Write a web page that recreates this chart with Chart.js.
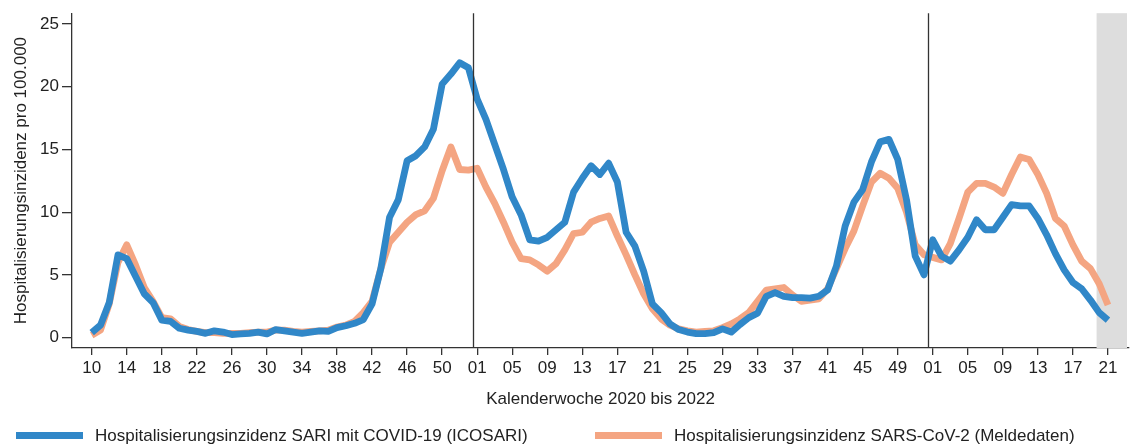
<!DOCTYPE html>
<html>
<head>
<meta charset="utf-8">
<script src="https://cdn.jsdelivr.net/npm/chart.js@4"></script>
<style>
  html, body { margin: 0; padding: 0; background: #fff; }
  #wrap { width: 1131px; height: 448px; position: relative; }
</style>
</head>
<body>
<div id="wrap"><canvas id="chart"></canvas></div>
<script>
// Kalenderwoche 2020/10 .. 2022/21, one value per week
const tickLabels = ['10','14','18','22','26','30','34','38','42','46','50',
                    '01','05','09','13','17','21','25','29','33','37','41','45','49',
                    '01','05','09','13','17','21'];
const yTicks = [0, 5, 10, 15, 20, 25];

const sariIcosari = [
  0.4, 1.0, 2.8, 6.6, 6.3, 4.9, 3.5, 2.8, 1.4, 1.3,
  0.75, 0.6, 0.5, 0.35, 0.55, 0.45, 0.25, 0.3, 0.35, 0.45,
  0.3, 0.65, 0.55, 0.45, 0.35, 0.45, 0.55, 0.5, 0.8, 0.95,
  1.15, 1.45, 2.7, 5.5, 9.6, 11.0, 14.1, 14.5, 15.2, 16.6,
  20.2, 21.0, 21.9, 21.5, 19.0, 17.4, 15.4, 13.4, 11.2, 9.8,
  7.8, 7.7, 8.0, 8.6, 9.2, 11.6, 12.7, 13.7, 13.0, 13.9,
  12.4, 8.4, 7.3, 5.3, 2.7, 2.0, 1.1, 0.65, 0.45, 0.33,
  0.32, 0.4, 0.7, 0.45, 1.05, 1.6, 1.95, 3.3, 3.6, 3.3,
  3.2, 3.2, 3.15, 3.3, 3.8, 5.7, 8.9, 10.8, 11.8, 14.0,
  15.6, 15.8, 14.2, 11.0, 6.5, 5.0, 7.8, 6.5, 6.1, 7.0,
  8.0, 9.4, 8.6, 8.6, 9.6, 10.6, 10.5, 10.5, 9.5, 8.2,
  6.7, 5.4, 4.4, 3.9, 3.0, 2.0, 1.4
];

const sarsCov2Melde = [
  0.2, 0.6, 2.7, 6.0, 7.4, 5.8, 4.0, 2.9, 1.6, 1.5,
  0.9, 0.65, 0.5, 0.4, 0.4, 0.35, 0.35, 0.35, 0.4, 0.45,
  0.45, 0.6, 0.6, 0.5, 0.45, 0.5, 0.55, 0.6, 0.85, 1.0,
  1.3, 2.0, 2.9, 5.5, 7.6, 8.4, 9.2, 9.8, 10.1, 11.1,
  13.3, 15.2, 13.4, 13.35, 13.5, 12.0, 10.7, 9.2, 7.6, 6.3,
  6.2, 5.8, 5.3, 5.9, 7.0, 8.3, 8.4, 9.2, 9.5, 9.7,
  8.1, 6.6, 5.0, 3.5, 2.3, 1.5, 1.0, 0.7, 0.55, 0.45,
  0.5, 0.55, 0.8, 1.1, 1.5, 2.0, 2.9, 3.8, 3.9, 4.0,
  3.4, 2.9, 3.0, 3.1, 3.9, 5.5, 7.1, 8.5, 10.5, 12.4,
  13.1, 12.7, 11.9, 10.0, 7.4, 6.6, 6.4, 6.2, 7.5, 9.5,
  11.6, 12.3, 12.3, 12.0, 11.5, 13.0, 14.4, 14.2, 13.0, 11.5,
  9.5, 8.9, 7.4, 6.1, 5.5, 4.3, 2.6
];

const yearBreaks = [43.5, 95.5];   // between 2020/53|2021/01 and 2021/52|2022/01
const incompleteFrom = 114.7;      // shaded: last weeks not yet complete

const blue = '#3087c8';
const orange = '#f4a582';
const ink = '#222222';
const font = 'Liberation Sans, Arial, Helvetica, sans-serif';
const fontSize = 17;

Chart.defaults.font.family = font;
Chart.defaults.color = ink;

const toPoints = arr => arr.map((v, i) => ({ x: i, y: v }));

const overlay = {
  id: 'overlay',
  beforeDatasetsDraw(chart) {
    const { ctx, chartArea: a, scales: { x } } = chart;
    ctx.save();
    ctx.fillStyle = '#dddddd';
    const x0 = x.getPixelForValue(incompleteFrom);
    ctx.fillRect(x0, a.top, a.right - 2 - x0, a.bottom - a.top);
    ctx.restore();
  },
  afterDatasetsDraw(chart) {
    const { ctx, chartArea: a, scales: { x } } = chart;
    ctx.save();
    ctx.strokeStyle = '#333333';
    ctx.lineWidth = 1.3;
    yearBreaks.forEach(v => {
      const px = Math.round(x.getPixelForValue(v)) + 0.5;
      ctx.beginPath();
      ctx.moveTo(px, a.top);
      ctx.lineTo(px, a.bottom);
      ctx.stroke();
    });
    ctx.restore();
  },
  afterDraw(chart) {
    // legend drawn by hand, two items on one row
    const { ctx } = chart;
    const legendX = [16, 595];
    const legendY = 435.5;
    ctx.save();
    ctx.font = fontSize + 'px ' + font;
    ctx.textBaseline = 'middle';
    ctx.textAlign = 'left';
    chart.data.datasets.forEach((ds, i) => {
      ctx.strokeStyle = ds.borderColor;
      ctx.lineWidth = 7;
      ctx.beginPath();
      ctx.moveTo(legendX[i], legendY);
      ctx.lineTo(legendX[i] + 67, legendY);
      ctx.stroke();
      ctx.fillStyle = ink;
      ctx.fillText(ds.label, legendX[i] + 79, legendY + 1);
    });
    ctx.restore();
  }
};

new Chart(document.getElementById('chart'), {
  type: 'line',
  data: {
    datasets: [
      {
        label: 'Hospitalisierungsinzidenz SARI mit COVID-19 (ICOSARI)',
        data: toPoints(sariIcosari),
        borderColor: blue,
        backgroundColor: blue
      },
      {
        label: 'Hospitalisierungsinzidenz SARS-CoV-2 (Meldedaten)',
        data: toPoints(sarsCov2Melde),
        borderColor: orange,
        backgroundColor: orange
      }
    ]
  },
  options: {
    responsive: true,
    maintainAspectRatio: false,
    animation: false,
    layout: { padding: { top: 7, right: 2, left: 0, bottom: 30 } },
    elements: {
      line: { borderWidth: 6.8, tension: 0, borderJoinStyle: 'round', borderCapStyle: 'butt' },
      point: { radius: 0, hoverRadius: 0 }
    },
    plugins: {
      legend: { display: false },
      tooltip: { enabled: false }
    },
    scales: {
      x: {
        type: 'linear',
        min: -2.25,
        max: 118.4,
        afterBuildTicks: axis => { axis.ticks = tickLabels.map((_, k) => ({ value: k * 4 })); },
        afterFit: axis => { axis.height = 70; },
        grid: { display: true, drawOnChartArea: false, drawTicks: true, tickLength: 7, color: '#333333', lineWidth: 1.3 },
        border: { display: true, color: '#333333', width: 1.3 },
        ticks: {
          font: { size: fontSize },
          color: ink,
          padding: 3,
          maxRotation: 0,
          autoSkip: false,
          callback: v => tickLabels[Math.round(v / 4)]
        },
        title: {
          display: true,
          text: 'Kalenderwoche 2020 bis 2022',
          font: { size: fontSize },
          color: ink,
          padding: { top: 0, bottom: 8 }
        }
      },
      y: {
        min: -0.82,
        max: 25.85,
        afterBuildTicks: axis => { axis.ticks = yTicks.map(v => ({ value: v })); },
        afterFit: axis => { axis.width = 72; },
        grid: { display: true, drawOnChartArea: false, drawTicks: true, tickLength: 10, color: '#333333', lineWidth: 1.3 },
        border: { display: true, color: '#333333', width: 1.3 },
        ticks: { font: { size: fontSize }, color: ink, padding: 3 },
        title: {
          display: true,
          text: 'Hospitalisierungsinzidenz pro 100.000',
          font: { size: fontSize },
          color: ink,
          padding: { top: 11, bottom: 0 }
        }
      }
    }
  },
  plugins: [overlay]
});
</script>
</body>
</html>
